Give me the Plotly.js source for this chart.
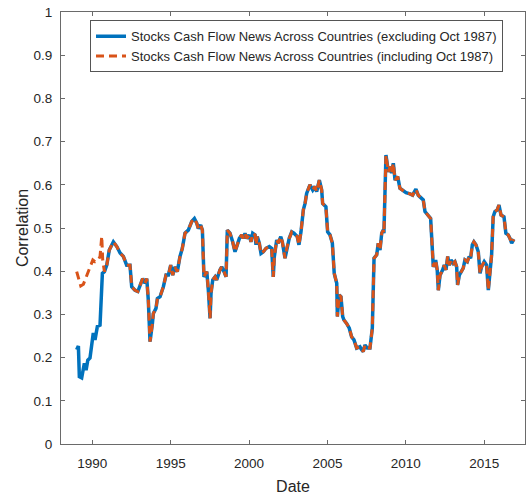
<!DOCTYPE html>
<html>
<head>
<meta charset="utf-8">
<script src="https://cdn.plot.ly/plotly-3.0.1.min.js"></script>
<style>html,body{margin:0;padding:0;background:#fff;}#chart{width:526px;height:499px;}</style>
</head>
<body>
<div id="chart"></div>
<script>
// Series excluding Oct 1987 (decimal year, correlation)
var exclDates = [1989.00,1989.11,1989.17,1989.32,1989.49,1989.60,1989.71,1989.85,1990.06,1990.17,1990.32,1990.49,1990.64,1990.77,1990.92,1991.08,1991.34,1991.56,1991.77,1991.98,1992.19,1992.40,1992.51,1992.72,1992.90,1993.04,1993.21,1993.36,1993.47,1993.57,1993.68,1993.83,1993.89,1994.06,1994.15,1994.32,1994.53,1994.70,1994.85,1995.00,1995.13,1995.27,1995.42,1995.59,1995.74,1995.91,1996.12,1996.34,1996.51,1996.66,1996.76,1996.91,1997.02,1997.12,1997.30,1997.40,1997.51,1997.57,1997.68,1997.83,1997.93,1998.14,1998.25,1998.40,1998.53,1998.61,1998.78,1998.95,1999.10,1999.21,1999.38,1999.53,1999.63,1999.74,1999.85,2000.01,2000.12,2000.23,2000.38,2000.44,2000.52,2000.65,2000.76,2000.91,2001.08,2001.29,2001.44,2001.54,2001.61,2001.76,2001.86,2002.02,2002.12,2002.29,2002.40,2002.56,2002.72,2002.86,2003.07,2003.18,2003.31,2003.46,2003.57,2003.67,2003.88,2004.06,2004.20,2004.31,2004.48,2004.63,2004.69,2004.90,2005.01,2005.16,2005.31,2005.43,2005.59,2005.63,2005.75,2005.86,2005.97,2006.05,2006.22,2006.39,2006.54,2006.69,2006.86,2007.07,2007.18,2007.28,2007.39,2007.54,2007.71,2007.86,2007.97,2008.14,2008.24,2008.35,2008.46,2008.56,2008.60,2008.73,2008.88,2008.99,2009.09,2009.20,2009.31,2009.48,2009.62,2009.80,2010.01,2010.26,2010.43,2010.64,2010.79,2010.90,2011.11,2011.22,2011.43,2011.58,2011.68,2011.75,2011.90,2012.00,2012.07,2012.18,2012.35,2012.45,2012.56,2012.67,2012.77,2012.88,2013.02,2013.13,2013.24,2013.30,2013.41,2013.56,2013.66,2013.77,2013.92,2014.04,2014.13,2014.24,2014.34,2014.47,2014.62,2014.73,2014.83,2015.00,2015.15,2015.26,2015.36,2015.47,2015.57,2015.68,2015.83,2015.94,2016.07,2016.26,2016.38,2016.53,2016.64,2016.75,2016.89];
var exclValues = [0.218,0.227,0.156,0.153,0.187,0.171,0.194,0.199,0.257,0.241,0.272,0.275,0.395,0.399,0.414,0.449,0.468,0.457,0.442,0.434,0.414,0.414,0.364,0.356,0.353,0.368,0.383,0.372,0.383,0.333,0.237,0.279,0.302,0.314,0.337,0.341,0.364,0.391,0.391,0.414,0.391,0.410,0.399,0.434,0.453,0.488,0.495,0.515,0.522,0.511,0.499,0.507,0.495,0.387,0.399,0.356,0.291,0.349,0.380,0.387,0.380,0.403,0.410,0.399,0.387,0.495,0.488,0.468,0.445,0.457,0.476,0.484,0.476,0.488,0.476,0.484,0.468,0.488,0.484,0.461,0.480,0.465,0.441,0.445,0.453,0.457,0.453,0.387,0.434,0.472,0.465,0.480,0.468,0.430,0.453,0.476,0.491,0.488,0.480,0.461,0.491,0.542,0.557,0.580,0.600,0.588,0.596,0.584,0.611,0.588,0.557,0.549,0.491,0.484,0.465,0.395,0.372,0.295,0.345,0.341,0.295,0.287,0.279,0.268,0.248,0.241,0.222,0.225,0.218,0.214,0.229,0.222,0.222,0.268,0.430,0.438,0.465,0.449,0.488,0.495,0.488,0.669,0.630,0.642,0.627,0.650,0.611,0.619,0.592,0.588,0.582,0.579,0.576,0.590,0.576,0.572,0.565,0.538,0.530,0.522,0.457,0.410,0.426,0.403,0.356,0.391,0.403,0.414,0.403,0.434,0.414,0.426,0.418,0.422,0.410,0.368,0.391,0.399,0.407,0.426,0.422,0.434,0.430,0.461,0.468,0.461,0.445,0.395,0.410,0.422,0.414,0.356,0.403,0.438,0.526,0.538,0.542,0.553,0.530,0.526,0.488,0.484,0.476,0.465,0.474];

// Series including Oct 1987: differs only in the early part
var inclEarlyDates = [1989.00,1989.11,1989.26,1989.43,1989.64,1989.81,1990.03,1990.17,1990.38,1990.49,1990.60,1990.66];
var inclEarlyValues = [0.399,0.383,0.366,0.370,0.391,0.403,0.426,0.422,0.426,0.434,0.481,0.426];
var mergeFrom = 1990.77;

var seriesNames = ['Stocks Cash Flow News Across Countries (excluding Oct 1987)',
                   'Stocks Cash Flow News Across Countries (including Oct 1987)'];
var xTicks = [1990,1995,2000,2005,2010,2015];
var yTicks = [0,0.1,0.2,0.3,0.4,0.5,0.6,0.7,0.8,0.9,1];

var inclDates = inclEarlyDates.slice(), inclValues = inclEarlyValues.slice();
for (var i = 0; i < exclDates.length; i++) {
  if (exclDates[i] >= mergeFrom) { inclDates.push(exclDates[i]); inclValues.push(exclValues[i]); }
}

var traces = [
  {x: exclDates, y: exclValues, type: 'scatter', mode: 'lines', name: seriesNames[0],
   line: {color: '#0072BD', width: 3.5}},
  {x: inclDates, y: inclValues, type: 'scatter', mode: 'lines', name: seriesNames[1],
   line: {color: '#D95319', width: 3, dash: '8px,5px'}}
];

var axisCommon = {
  showgrid: false, zeroline: false, showline: true, linecolor: '#6a6a6a', linewidth: 1,
  mirror: 'ticks', ticks: 'inside', ticklen: 4, tickcolor: '#6a6a6a', tickwidth: 1,
  tickfont: {family: 'Liberation Sans, Arial, sans-serif', size: 13.5, color: '#262626'}
};

var layout = {
  width: 526, height: 499,
  margin: {l: 61, r: 1, t: 12, b: 55},
  paper_bgcolor: '#fff', plot_bgcolor: '#fff',
  showlegend: true,
  xaxis: Object.assign({}, axisCommon, {
    range: [1988.0, 2017.6], tickvals: xTicks, ticktext: xTicks.map(String),
    ticklabelstandoff: 7,
    title: {text: 'Date', standoff: 10, font: {family: 'Liberation Sans, Arial, sans-serif', size: 16, color: '#262626'}}
  }),
  yaxis: Object.assign({}, axisCommon, {
    range: [0, 1], tickvals: yTicks, ticktext: yTicks.map(String),
    ticklabelstandoff: 5,
    title: {text: 'Correlation', standoff: 0, font: {family: 'Liberation Sans, Arial, sans-serif', size: 16, color: '#262626'}}
  }),
  legend: {
    x: 0.0625, y: 0.981, xanchor: 'left', yanchor: 'top',
    bgcolor: '#fff', bordercolor: '#555', borderwidth: 1,
    font: {family: 'Liberation Sans, Arial, sans-serif', size: 13, color: '#262626'},
    tracegroupgap: 0
  }
};

Plotly.newPlot('chart', traces, layout, {displayModeBar: false, staticPlot: true});
</script>
</body>
</html>
